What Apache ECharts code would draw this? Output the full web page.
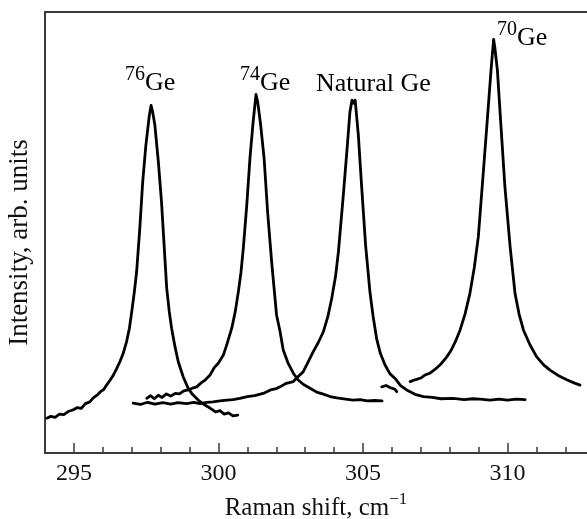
<!DOCTYPE html>
<html>
<head>
<meta charset="utf-8">
<script src="https://cdn.jsdelivr.net/npm/echarts@6/dist/echarts.min.js"></script>
<style>
  html, body { margin: 0; padding: 0; background: #fff; }
  #chart { width: 587px; height: 519px; }
</style>
</head>
<body>
<div id="chart"></div>
<script>
// Raman spectra of isotopically enriched and natural germanium (shift in cm^-1, intensity in arb. units)
const ge76 = [
  [294.06, 7.9], [294.2, 8.3], [294.35, 8.1], [294.5, 8.8], [294.65, 8.7], [294.8, 9.4],
  [294.98, 9.8], [295.12, 10.3], [295.25, 10.1], [295.4, 11.2], [295.55, 11.6], [295.67, 12.5],
  [295.8, 13.1], [295.92, 13.9], [296.03, 14.4], [296.13, 15.4], [296.25, 16.5], [296.36, 17.6],
  [296.47, 19.0], [296.59, 20.7], [296.7, 22.5], [296.82, 25.2], [296.92, 28.3], [297.0, 32.0],
  [297.09, 36.5], [297.17, 41.1], [297.28, 51.0], [297.38, 61.5], [297.49, 69.8], [297.61, 76.6],
  [297.67, 78.8], [297.72, 77.5], [297.8, 74.4], [297.92, 66.1], [298.03, 57.0], [298.12, 47.2],
  [298.21, 37.4], [298.3, 32.0], [298.38, 28.3], [298.5, 24.0], [298.61, 20.7], [298.78, 17.3],
  [298.95, 14.7], [299.1, 13.3], [299.3, 12.0], [299.5, 11.0], [299.71, 10.2], [299.9, 9.3],
  [300.05, 9.6], [300.2, 8.8], [300.35, 9.1], [300.5, 8.4], [300.67, 8.6]
];
const ge74 = [
  [297.52, 12.4], [297.65, 13.0], [297.78, 12.3], [297.92, 13.1], [298.05, 12.6], [298.2, 13.4],
  [298.35, 12.9], [298.5, 13.5], [298.65, 13.4], [298.8, 14.1], [298.95, 14.3], [299.1, 14.7],
  [299.25, 15.0], [299.4, 15.9], [299.55, 16.6], [299.71, 17.7], [299.85, 19.3], [300.0, 20.4],
  [300.17, 22.2], [300.3, 24.8], [300.46, 28.3], [300.58, 32.0], [300.69, 36.6], [300.78, 41.0],
  [300.86, 46.4], [300.98, 56.2], [301.09, 66.8], [301.2, 75.1], [301.3, 81.3], [301.36, 79.5],
  [301.46, 74.4], [301.58, 66.8], [301.7, 54.7], [301.84, 43.4], [302.01, 31.3], [302.13, 27.6],
  [302.24, 23.4], [302.4, 20.5], [302.59, 18.1], [302.75, 16.6], [302.93, 15.6], [303.17, 14.7],
  [303.4, 13.8], [303.6, 13.4], [303.86, 12.8], [304.1, 12.5], [304.4, 12.2], [304.66, 12.0],
  [304.9, 12.1], [305.15, 11.8], [305.4, 11.9], [305.66, 11.8]
];
const geNatural = [
  [297.05, 11.3], [297.3, 11.0], [297.55, 11.5], [297.8, 11.1], [298.08, 11.4], [298.35, 11.1],
  [298.6, 11.4], [298.9, 11.2], [299.15, 11.5], [299.36, 11.2], [299.6, 11.5], [299.81, 11.6],
  [300.05, 11.8], [300.3, 12.0], [300.5, 12.1], [300.74, 12.4], [301.0, 12.8], [301.25, 13.0],
  [301.55, 13.5], [301.8, 14.3], [302.0, 14.6], [302.13, 15.0], [302.35, 15.8], [302.59, 16.2],
  [302.75, 17.3], [302.93, 18.4], [303.1, 20.6], [303.28, 23.0], [303.45, 25.0], [303.63, 27.5],
  [303.78, 30.8], [303.92, 35.1], [304.05, 40.0], [304.15, 45.6], [304.32, 58.5], [304.46, 69.8],
  [304.55, 77.4], [304.62, 80.0], [304.68, 79.3], [304.73, 80.0], [304.84, 72.1], [304.95, 60.8],
  [305.09, 47.2], [305.24, 36.6], [305.35, 31.0], [305.47, 26.0], [305.6, 22.6], [305.76, 20.0],
  [305.93, 18.0], [306.11, 16.9], [306.3, 15.3], [306.51, 14.3], [306.8, 13.3], [307.09, 12.8],
  [307.4, 12.6], [307.7, 12.3], [308.12, 12.4], [308.5, 12.1], [308.8, 12.3], [309.05, 12.2],
  [309.4, 12.0], [309.7, 12.2], [310.0, 12.0], [310.3, 12.2], [310.61, 12.1]
];
const ge70 = [
  [305.65, 15.0], [305.8, 15.3], [305.95, 14.8], [306.1, 14.5], [306.17, 13.9], [306.4, '-'],
  [306.63, 16.2], [306.8, 16.6], [307.0, 17.0], [307.15, 17.7], [307.32, 18.1], [307.5, 19.0],
  [307.7, 20.2], [307.9, 21.8], [308.05, 23.3], [308.2, 25.3], [308.36, 27.9], [308.53, 31.5],
  [308.7, 36.2], [308.85, 42.0], [308.99, 49.0], [309.16, 63.4], [309.3, 75.5], [309.43, 86.8],
  [309.52, 93.8], [309.56, 92.0], [309.65, 86.8], [309.76, 75.5], [309.91, 60.4], [310.09, 46.8],
  [310.26, 36.2], [310.4, 31.5], [310.55, 27.9], [310.78, 24.5], [311.01, 21.8], [311.25, 20.0],
  [311.47, 18.8], [311.75, 17.6], [312.05, 16.6], [312.3, 15.9], [312.51, 15.4]
];
const majorTicks = [295, 300, 305, 310];
const minorTicks = [296, 297, 298, 299, 301, 302, 303, 304, 306, 307, 308, 309, 311, 312];
const peakLabels = [
  { sup: '76', text: 'Ge', x: 125, y: 65 },
  { sup: '74', text: 'Ge', x: 240, y: 65 },
  { sup: '', text: 'Natural Ge', x: 316, y: 66 },
  { sup: '70', text: 'Ge', x: 497, y: 20 }
];

const SERIF = "'Liberation Serif', 'Times New Roman', serif";
const INK = '#111';
const AXIS = '#3a3a3a';
const X_MIN = 294, X_MAX = 312.75;

const chart = echarts.init(document.getElementById('chart'), null, { renderer: 'canvas' });

function spectrum(name, data) {
  return {
    name, type: 'line', data, xAxisIndex: 0, yAxisIndex: 0,
    showSymbol: false, smooth: false, connectNulls: false,
    lineStyle: { color: '#000', width: 2.8, join: 'round', cap: 'round' },
    silent: true
  };
}

const richLabel = {
  s: { fontFamily: SERIF, fontSize: 20, lineHeight: 20, color: INK, verticalAlign: 'top' },
  m: { fontFamily: SERIF, fontSize: 26, lineHeight: 31, color: INK, verticalAlign: 'bottom' }
};

chart.setOption({
  animation: false,
  backgroundColor: '#fff',
  grid: { left: 45, right: 0, top: 12, bottom: 66, containLabel: false, outerBoundsMode: 'none' },
  xAxis: [
    {
      type: 'value', min: X_MIN, max: X_MAX, position: 'bottom', offset: 0,
      axisLine: { show: true, lineStyle: { color: AXIS, width: 2 } },
      axisTick: { show: true, inside: true, length: 10, customValues: majorTicks, lineStyle: { color: AXIS, width: 1.5 } },
      axisLabel: { show: true, customValues: majorTicks, fontFamily: SERIF, fontSize: 24, color: INK, margin: 9 },
      splitLine: { show: false },
      name: '{m|Raman shift, cm}{s|\u22121}',
      nameLocation: 'middle', nameGap: 38,
      nameTextStyle: {
        rich: {
          m: { fontFamily: SERIF, fontSize: 25, lineHeight: 30, color: INK, verticalAlign: 'bottom' },
          s: { fontFamily: SERIF, fontSize: 17, lineHeight: 17, color: INK, verticalAlign: 'top' }
        }
      }
    },
    {
      type: 'value', min: X_MIN, max: X_MAX, position: 'bottom', offset: 0,
      axisLine: { show: false },
      axisTick: { show: true, inside: true, length: 6, customValues: minorTicks, lineStyle: { color: AXIS, width: 1.5 } },
      axisLabel: { show: false },
      splitLine: { show: false }
    },
    {
      type: 'value', min: X_MIN, max: X_MAX, position: 'top', offset: 0,
      axisLine: { show: true, lineStyle: { color: AXIS, width: 2 } },
      axisTick: { show: false }, axisLabel: { show: false }, splitLine: { show: false }
    }
  ],
  yAxis: {
    type: 'value', min: 0, max: 100,
    axisLine: { show: true, lineStyle: { color: AXIS, width: 2 } },
    axisTick: { show: false }, axisLabel: { show: false }, splitLine: { show: false },
    name: 'Intensity, arb. units', nameLocation: 'middle', nameGap: 12,
    nameTextStyle: { fontFamily: SERIF, fontSize: 27, color: INK, padding: [0, 20, 0, 0] }
  },
  series: [
    spectrum('76Ge', ge76),
    spectrum('74Ge', ge74),
    spectrum('Natural Ge', geNatural),
    spectrum('70Ge', ge70)
  ],
  graphic: peakLabels.map(p => ({
    type: 'text', x: p.x, y: p.y, silent: true,
    style: {
      text: (p.sup ? '{s|' + p.sup + '}' : '') + '{m|' + p.text + '}',
      rich: richLabel,
      align: 'left', verticalAlign: 'top'
    }
  }))
});
</script>
</body>
</html>
